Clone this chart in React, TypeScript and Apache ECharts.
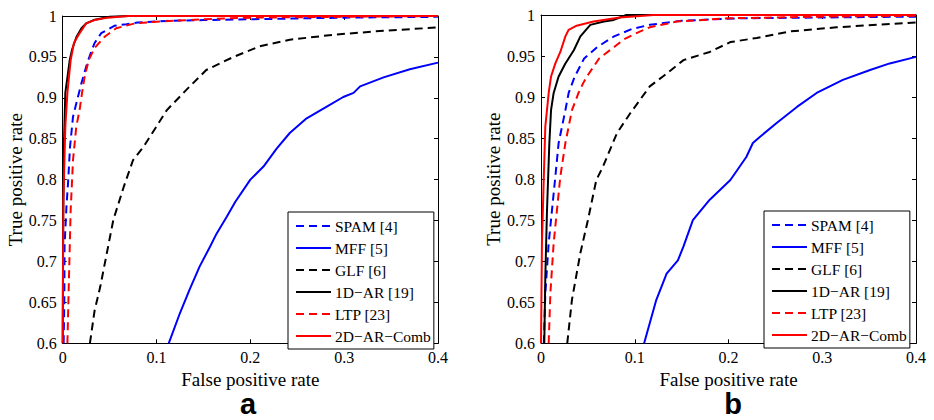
import React, { useEffect, useRef } from "react";
import * as echarts from "echarts";

// ---- Data: [false positive rate, true positive rate] ----
const SERIES_NAMES = ["SPAM [4]", "MFF [5]", "GLF [6]", "1D\u2212AR [19]", "LTP [23]", "2D\u2212AR\u2212Comb"];
const X_TICKS = [0, 0.1, 0.2, 0.3, 0.4];
const Y_TICKS = [0.6, 0.65, 0.7, 0.75, 0.8, 0.85, 0.9, 0.95, 1];
const PANEL_LABELS = ["a", "b"];

// Panel a
const A_SPAM = [[0.001,0.6],[0.0017,0.65],[0.002,0.72],[0.004,0.767],[0.0057,0.796],[0.0078,0.84],[0.011,0.877],[0.016,0.9],[0.02,0.918],[0.026,0.942],[0.03,0.955],[0.034,0.967],[0.041,0.979],[0.055,0.988],[0.068,0.99],[0.08,0.992],[0.11,0.994],[0.15,0.995],[0.2,0.996],[0.3,0.998],[0.4,0.999]];
const A_MFF = [[0.113,0.6],[0.125,0.637],[0.135,0.665],[0.146,0.694],[0.157,0.718],[0.164,0.734],[0.175,0.755],[0.184,0.773],[0.2,0.8],[0.214,0.816],[0.228,0.838],[0.242,0.857],[0.26,0.875],[0.281,0.889],[0.299,0.901],[0.31,0.906],[0.317,0.914],[0.342,0.925],[0.37,0.935],[0.4,0.943]];
const A_GLF = [[0.029,0.6],[0.034,0.64],[0.04,0.669],[0.047,0.71],[0.054,0.751],[0.065,0.791],[0.075,0.824],[0.086,0.84],[0.1,0.865],[0.111,0.885],[0.132,0.91],[0.153,0.934],[0.182,0.95],[0.21,0.963],[0.242,0.971],[0.288,0.977],[0.342,0.982],[0.4,0.986]];
const A_1DAR = [[0,0.6],[0.0005,0.75],[0.0015,0.85],[0.0028,0.906],[0.0075,0.946],[0.01,0.959],[0.0145,0.974],[0.02,0.985],[0.025,0.991],[0.033,0.995],[0.05,0.999],[0.07,1],[0.4,1]];
const A_LTP = [[0.005,0.6],[0.0067,0.681],[0.0085,0.763],[0.011,0.824],[0.0145,0.865],[0.018,0.885],[0.0206,0.906],[0.0234,0.926],[0.0277,0.946],[0.034,0.961],[0.045,0.975],[0.057,0.985],[0.077,0.991],[0.1,0.993],[0.15,0.996],[0.2,0.998],[0.3,0.999],[0.4,1]];
const A_2DAR = [[0,0.6],[0.0007,0.775],[0.0028,0.865],[0.005,0.906],[0.0085,0.946],[0.012,0.967],[0.017,0.977],[0.025,0.991],[0.034,0.995],[0.048,0.998],[0.07,1],[0.4,1]];

// Panel b
const B_SPAM = [[0.003,0.6],[0.0046,0.661],[0.0082,0.722],[0.0117,0.762],[0.0153,0.803],[0.0188,0.844],[0.026,0.884],[0.0295,0.905],[0.036,0.925],[0.046,0.947],[0.06,0.961],[0.078,0.974],[0.097,0.983],[0.116,0.988],[0.15,0.993],[0.21,0.996],[0.3,0.997],[0.4,0.998]];
const B_MFF = [[0.11,0.6],[0.123,0.653],[0.134,0.685],[0.146,0.701],[0.152,0.718],[0.162,0.75],[0.18,0.775],[0.202,0.799],[0.219,0.827],[0.226,0.844],[0.234,0.852],[0.251,0.868],[0.273,0.888],[0.294,0.905],[0.322,0.921],[0.351,0.933],[0.372,0.941],[0.4,0.949]];
const B_GLF = [[0.028,0.6],[0.033,0.653],[0.042,0.71],[0.05,0.75],[0.059,0.799],[0.066,0.815],[0.081,0.856],[0.095,0.88],[0.116,0.913],[0.13,0.925],[0.152,0.945],[0.18,0.955],[0.202,0.967],[0.23,0.972],[0.266,0.98],[0.315,0.985],[0.4,0.991]];
const B_1DAR = [[0.0035,0.6],[0.0046,0.681],[0.0064,0.762],[0.0089,0.844],[0.0107,0.884],[0.0135,0.905],[0.0188,0.925],[0.026,0.941],[0.035,0.957],[0.042,0.974],[0.0526,0.988],[0.067,0.992],[0.0776,0.994],[0.091,1],[0.4,1]];
const B_LTP = [[0.0082,0.6],[0.01,0.661],[0.0135,0.722],[0.017,0.762],[0.0206,0.803],[0.026,0.844],[0.033,0.884],[0.04,0.905],[0.045,0.917],[0.049,0.925],[0.062,0.947],[0.078,0.961],[0.088,0.97],[0.1,0.977],[0.116,0.985],[0.145,0.992],[0.2,0.996],[0.3,0.998],[0.4,0.999]];
const B_2DAR = [[0,0.6],[0.001,0.722],[0.003,0.803],[0.0046,0.864],[0.0083,0.906],[0.0107,0.925],[0.0153,0.941],[0.0206,0.955],[0.026,0.974],[0.0295,0.982],[0.038,0.987],[0.056,0.992],[0.084,0.997],[0.12,1],[0.4,1]];

const PANEL_DATA = [
  [A_SPAM, A_MFF, A_GLF, A_1DAR, A_LTP, A_2DAR],
  [B_SPAM, B_MFF, B_GLF, B_1DAR, B_LTP, B_2DAR],
];

const COLORS = ["#0000ff", "#0000ff", "#000000", "#000000", "#ff0000", "#ff0000"];
const DASHED = [true, false, true, false, true, false];

const SERIF = "Liberation Serif";

const GRIDS = [
  { left: 62.7, top: 16, width: 375.3, height: 327.3 },
  { left: 541, top: 15, width: 375, height: 328.3 },
];
const LEGEND_POS = [
  { left: 288, top: 212 },
  { left: 764, top: 211 },
];
const LABEL_POS = [248, 733];

export default function App() {
  const ref = useRef<HTMLDivElement>(null);
  useEffect(() => {
    if (!ref.current) return;
    const chart = echarts.init(ref.current, undefined, { renderer: "svg" });

    const xAxis: any[] = [];
    const yAxis: any[] = [];
    const series: any[] = [];
    const legend: any[] = [];
    const graphic: any[] = [];

    GRIDS.forEach((g, gi) => {
      const common = {
        gridIndex: gi,
        type: "value",
        splitLine: { show: false },
        axisLine: { show: true, onZero: false, lineStyle: { color: "#000", width: 1 } },
        axisTick: { show: true, inside: true, length: 4, lineStyle: { color: "#000" } },
      };
      xAxis.push({
        ...common,
        position: "bottom",
        min: X_TICKS[0],
        max: X_TICKS[X_TICKS.length - 1],
        interval: 0.1,
        axisLabel: { color: "#000", fontFamily: SERIF, fontSize: 16, margin: 6 },
        name: "False positive rate",
        nameLocation: "middle",
        nameGap: 24,
        nameTextStyle: { color: "#000", fontFamily: SERIF, fontSize: 19, lineHeight: 19 },
      });
      xAxis.push({
        ...common,
        position: "top",
        min: X_TICKS[0],
        max: X_TICKS[X_TICKS.length - 1],
        interval: 0.1,
        axisLabel: { show: false },
      });
      yAxis.push({
        ...common,
        position: "left",
        min: Y_TICKS[0],
        max: Y_TICKS[Y_TICKS.length - 1],
        interval: 0.05,
        axisLabel: { color: "#000", fontFamily: SERIF, fontSize: 16, margin: 6 },
        name: "True positive rate",
        nameLocation: "middle",
        nameGap: 38,
        nameTextStyle: { color: "#000", fontFamily: SERIF, fontSize: 19 },
      });
      yAxis.push({
        ...common,
        position: "right",
        min: Y_TICKS[0],
        max: Y_TICKS[Y_TICKS.length - 1],
        interval: 0.05,
        axisLabel: { show: false },
      });

      PANEL_DATA[gi].forEach((d, si) => {
        series.push({
          type: "line",
          name: SERIES_NAMES[si],
          xAxisIndex: gi * 2,
          yAxisIndex: gi * 2,
          data: d,
          symbol: "none",
          clip: true,
          z: 2 + si,
          lineStyle: {
            color: COLORS[si],
            width: 2,
            type: DASHED[si] ? [8, 5] : "solid",
            cap: "butt",
          },
          itemStyle: { color: COLORS[si] },
        });
      });

      legend.push({
        left: LEGEND_POS[gi].left,
        top: LEGEND_POS[gi].top,
        orient: "vertical",
        data: SERIES_NAMES,
        itemWidth: 35,
        itemHeight: 14,
        itemGap: 6,
        padding: [6, 3, 5, 7],
        backgroundColor: "#fff",
        borderColor: "#000",
        borderWidth: 1,
        borderRadius: 0,
        selectedMode: false,
        itemStyle: { color: "transparent", borderColor: "transparent", borderWidth: 0, opacity: 0 },
        textStyle: { color: "#000", fontFamily: SERIF, fontSize: 15.5, padding: [0, 0, 0, -1] },
      });

      graphic.push({
        type: "text",
        x: LABEL_POS[gi],
        y: 390,
        style: {
          text: PANEL_LABELS[gi],
          fill: "#000",
          align: "center",
          verticalAlign: "top",
          lineHeight: 28,
          font: "bold 29px 'Liberation Sans', Arial, sans-serif",
        },
      });
    });

    chart.setOption({
      animation: false,
      backgroundColor: "#fff",
      grid: GRIDS.map((g) => ({ ...g, show: false, containLabel: false })),
      xAxis,
      yAxis,
      series,
      legend,
      graphic,
    });
    return () => chart.dispose();
  }, []);

  return (
    <div
      ref={ref}
      style={{ position: "fixed", left: 0, top: 0, width: 934, height: 420, background: "#fff" }}
    />
  );
}
